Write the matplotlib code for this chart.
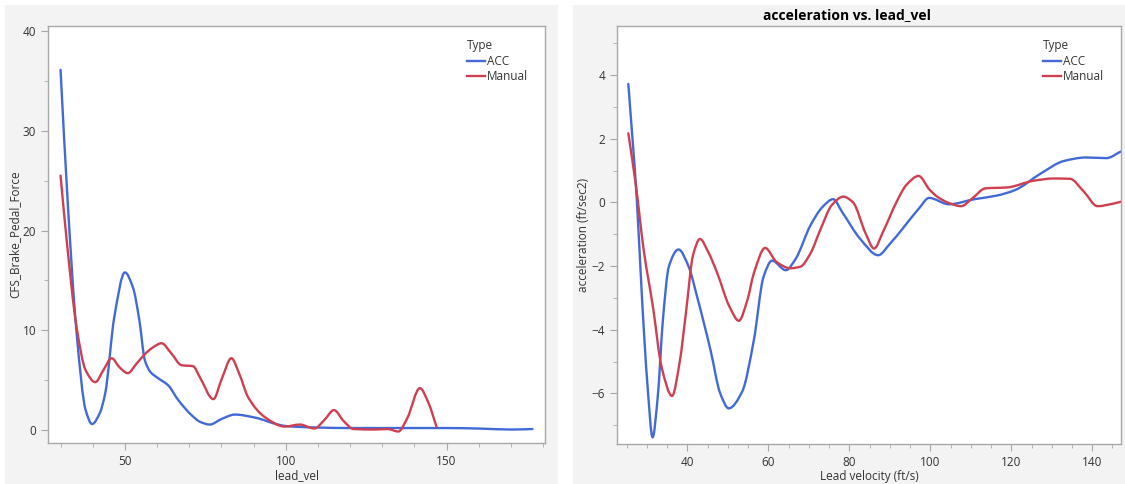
import numpy as np
import matplotlib.pyplot as plt
from matplotlib.patches import Rectangle, PathPatch
from matplotlib.path import Path
from matplotlib.lines import Line2D
from matplotlib.ticker import MultipleLocator

# brake pedal force vs lead_vel
acc_vel = [30, 32.2, 35, 37.8, 39.8, 42.2, 43.9, 46.7, 50, 52.5, 54.5, 56.2,
           58, 60.3, 63.4, 66.6, 70.7, 73.5, 76.4, 80, 84.2, 90.4, 97.6, 100,
           110, 120, 130, 140, 150, 160, 170, 176.7]
acc_force = [36.1, 23, 9.7, 2.0, 0.6, 1.7, 3.7, 11.3, 15.8, 14.3, 11, 7.0,
             5.8, 5.2, 4.5, 3.0, 1.5, 0.8, 0.55, 1.1, 1.55, 1.25, 0.55, 0.4,
             0.25, 0.2, 0.2, 0.2, 0.2, 0.15, 0.05, 0.1]
man_vel = [30, 31.7, 35, 37.8, 40.8, 43.3, 45.9, 48.3, 50.9, 53.5, 56.2, 58.8,
           61.4, 64.4, 67.6, 71.2, 73.3, 77.5, 80.2, 83.1, 85.6, 88.3, 93.5,
           99.7, 104.4, 108.9, 112, 115, 118, 121.1, 127.8, 131.7, 135, 137.8,
           141.7, 144.4, 146.9]
man_force = [25.5, 19.7, 10.3, 6.0, 4.8, 6.0, 7.2, 6.3, 5.7, 6.6, 7.6, 8.3,
             8.7, 7.7, 6.5, 6.4, 5.3, 3.1, 5.2, 7.2, 5.6, 3.3, 1.3, 0.35,
             0.55, 0.15, 1.0, 2.0, 0.9, 0.1, 0.05, 0.1, -0.15, 1.2, 4.2, 2.7,
             0.3]

# acceleration vs lead velocity
acc_vel2 = [25.4, 27.5, 28.8, 30.1, 31.4, 32.6, 34.0, 35.4, 37.8, 40.3, 42.4,
            45.7, 48.1, 50.2, 53.5, 56.4, 58.8, 60.9, 64.3, 66.7, 70.4, 73.4,
            76.0, 78.2, 82.7, 87.1, 90.1, 93.5, 97.2, 99.7, 104.6, 110.9,
            116.3, 121.0, 127.2, 133.0, 138.5, 143.5, 147.1]
acc_accel = [3.72, 0.07, -3.07, -5.69, -7.38, -6.2, -3.6, -2.02, -1.48, -2.02,
             -2.97, -4.64, -6.0, -6.47, -5.95, -4.33, -2.34, -1.83, -2.13,
             -1.78, -0.72, -0.14, 0.10, -0.3, -1.15, -1.66, -1.29, -0.77,
             -0.19, 0.14, -0.06, 0.10, 0.21, 0.39, 0.90, 1.30, 1.41, 1.39, 1.60]
man_vel2 = [25.4, 27.3, 29.2, 31.5, 33.6, 36.2, 38.1, 39.6, 41.4, 43.1, 45.1,
            47.3, 50.4, 52.7, 54.8, 56.4, 59.2, 62.0, 65.4, 67.9, 70.4, 72.8,
            75.7, 78.5, 80.9, 84.0, 86.1, 88.4, 91.8, 94.1, 97.1, 99.8, 101.7,
            104.6, 107.6, 110.4, 113.6, 119.0, 125.5, 130.5, 134.5, 137.9,
            141.3, 144.8, 147.1]
man_accel = [2.17, 0.5, -1.50, -3.3, -5.16, -6.08, -5.0, -3.5, -1.65, -1.15,
             -1.55, -2.2, -3.28, -3.72, -3.07, -2.23, -1.43, -1.87, -2.07,
             -2.02, -1.6, -0.87, -0.08, 0.18, 0.0, -0.97, -1.45, -0.9, 0.05,
             0.55, 0.83, 0.4, 0.18, -0.02, -0.12, 0.13, 0.44, 0.47, 0.68,
             0.75, 0.74, 0.34, -0.12, -0.05, 0.02]

blue = "#4169d8"
red = "#cf3f4f"
frame = "#a8a8a8"
txt = "#333333"

plt.rcParams["font.family"] = ["Open Sans", "DejaVu Sans"]


def smooth_path(x, y):
    # cubic Hermite (Fritsch-Carlson slopes) written as Bezier segments
    x = np.asarray(x, float)
    y = np.asarray(y, float)
    h = np.diff(x)
    d = np.diff(y) / h
    m = np.zeros_like(y)
    m[0], m[-1] = d[0], d[-1]
    for i in range(1, len(y) - 1):
        if d[i - 1] * d[i] > 0:
            w1 = 2 * h[i] + h[i - 1]
            w2 = h[i] + 2 * h[i - 1]
            m[i] = (w1 + w2) / (w1 / d[i - 1] + w2 / d[i])
    verts = [(x[0], y[0])]
    codes = [Path.MOVETO]
    for i in range(len(h)):
        verts += [(x[i] + h[i] / 3, y[i] + m[i] * h[i] / 3),
                  (x[i + 1] - h[i] / 3, y[i + 1] - m[i + 1] * h[i] / 3),
                  (x[i + 1], y[i + 1])]
        codes += [Path.CURVE4] * 3
    return Path(verts, codes)


def curve(ax, x, y, color):
    ax.add_patch(PathPatch(smooth_path(x, y), facecolor="none", edgecolor=color,
                           lw=1.7, capstyle="round", joinstyle="round"))


W, H = 1125, 484
fig = plt.figure(figsize=(W / 100, H / 100), dpi=100, facecolor="white")
for x0, x1 in [(5, 558), (573, 1125)]:
    fig.patches.append(Rectangle((x0 / W, 0), (x1 - x0) / W, 1 - 5 / H,
                                 transform=fig.transFigure, facecolor="#f3f3f3",
                                 edgecolor="none", zorder=-5))


def style(ax):
    ax.set_facecolor("white")
    for s in ax.spines.values():
        s.set_color(frame)
        s.set_linewidth(1.0)
    ax.tick_params(which="both", colors=frame, labelcolor=txt, labelsize=8.5)
    ax.tick_params(which="major", length=5)
    ax.tick_params(which="minor", length=3)


ax1 = fig.add_axes([48 / W, 1 - 443 / H, 497 / W, 417 / H])
curve(ax1, acc_vel, acc_force, blue)
curve(ax1, man_vel, man_force, red)
ax1.set_xlim(26.1, 180.6)
ax1.set_ylim(-1.3, 40.5)
ax1.xaxis.set_major_locator(MultipleLocator(50))
ax1.xaxis.set_minor_locator(MultipleLocator(10))
ax1.yaxis.set_major_locator(MultipleLocator(10))
ax1.yaxis.set_minor_locator(MultipleLocator(5))
ax1.set_xlabel("lead_vel", color=txt, fontsize=8.5, labelpad=1)
ax1.set_ylabel("CFS_Brake_Pedal_Force", color=txt, fontsize=8.5, labelpad=1)
style(ax1)

ax2 = fig.add_axes([617 / W, 1 - 444 / H, 504 / W, 418 / H])
curve(ax2, acc_vel2, acc_accel, blue)
curve(ax2, man_vel2, man_accel, red)
ax2.set_xlim(22.6, 147.1)
ax2.set_ylim(-7.59, 5.54)
ax2.xaxis.set_major_locator(MultipleLocator(20))
ax2.xaxis.set_minor_locator(MultipleLocator(5))
ax2.yaxis.set_major_locator(MultipleLocator(2))
ax2.yaxis.set_minor_locator(MultipleLocator(1))
ax2.set_xlabel("Lead velocity (ft/s)", color=txt, fontsize=8.5, labelpad=1)
ax2.set_ylabel("acceleration (ft/sec2)", color=txt, fontsize=8.5, labelpad=1)
style(ax2)
fig.text(847 / W, 1 - 15 / H, "acceleration vs. lead_vel", ha="center",
         va="center", fontsize=10, fontweight="bold", color="black")

handles = [Line2D([], [], color=blue, lw=1.7), Line2D([], [], color=red, lw=1.7)]
for ax, lx in [(ax1, 0.843), (ax2, 0.845)]:
    leg = ax.legend(handles, ["ACC", "Manual"], title="Type", loc="upper left",
                    bbox_to_anchor=(lx, 0.968), frameon=False, fontsize=8.5,
                    title_fontsize=8.5, handlelength=1.5, handletextpad=0.2,
                    labelspacing=0.2, borderpad=0, borderaxespad=0,
                    alignment="left")
    leg.get_title().set_color(txt)
    for t in leg.get_texts():
        t.set_color(txt)

fig.savefig("out.png", dpi=100, facecolor="white")
